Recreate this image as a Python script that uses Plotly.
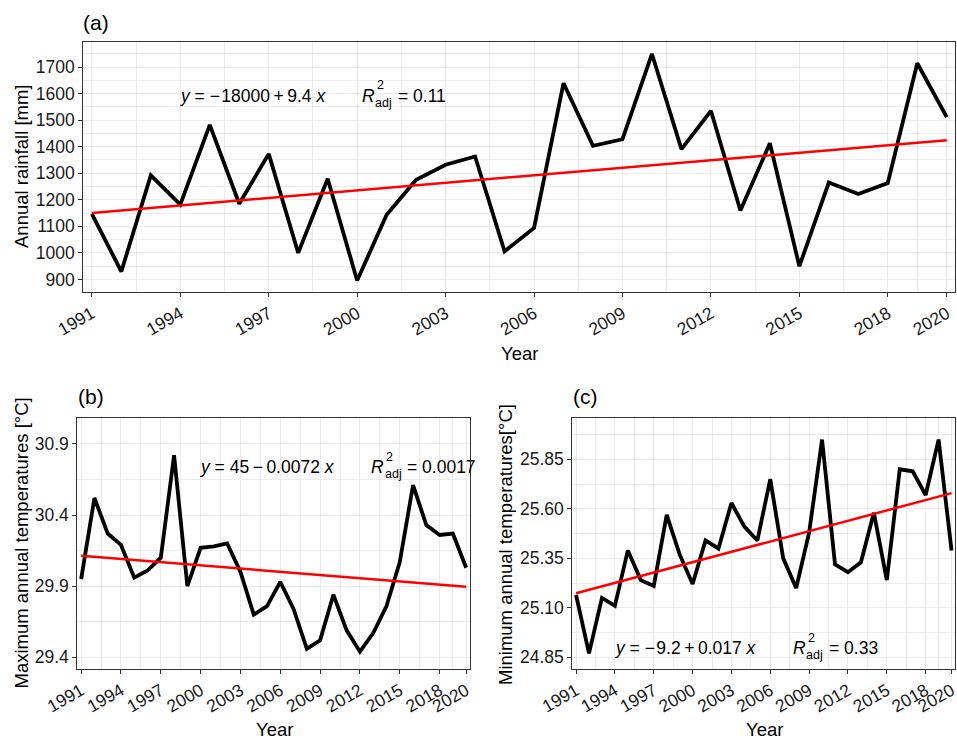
import numpy as np
import plotly.graph_objects as go

# ---------------- data ----------------
years = list(range(1991, 2021))
rainfall = [1147, 930, 1292, 1182, 1482, 1185, 1373, 1000, 1279, 896,
            1144, 1275, 1332, 1363, 1006, 1094, 1639, 1403, 1428, 1749,
            1391, 1535, 1160, 1413, 950, 1265, 1222, 1263, 1714, 1511]
tmax = [29.95, 30.52, 30.27, 30.19, 29.96, 30.01, 30.10, 30.82, 29.90, 30.17,
        30.18, 30.20, 30.00, 29.70, 29.76, 29.93, 29.74, 29.46, 29.52, 29.84,
        29.59, 29.44, 29.57, 29.76, 30.07, 30.61, 30.33, 30.26, 30.27, 30.03]
tmin = [25.165, 24.87, 25.15, 25.11, 25.39, 25.24, 25.21, 25.57, 25.37, 25.22,
        25.44, 25.40, 25.63, 25.51, 25.44, 25.75, 25.35, 25.20, 25.48, 25.95,
        25.32, 25.28, 25.33, 25.58, 25.24, 25.80, 25.79, 25.67, 25.95, 25.39]

x_ticks = [1991, 1994, 1997, 2000, 2003, 2006, 2009, 2012, 2015, 2018, 2020]
x_minor = [1992.5, 1995.5, 1998.5, 2001.5, 2004.5, 2007.5, 2010.5, 2013.5, 2016.5, 2019]
y_ticks_a = [900, 1000, 1100, 1200, 1300, 1400, 1500, 1600, 1700]
y_minor_a = [950, 1050, 1150, 1250, 1350, 1450, 1550, 1650, 1750]
y_ticks_b = [29.4, 29.9, 30.4, 30.9]
y_minor_b = [29.65, 30.15, 30.65]
y_ticks_c = [24.85, 25.10, 25.35, 25.60, 25.85]
y_minor_c = [24.975, 25.225, 25.475, 25.725, 25.975]

panel_tags = ["(a)", "(b)", "(c)"]
y_titles = ["Annual rainfall [mm]", "Maximum annual temperatures [°C]",
            "Minimum annual temperatures[°C]"]
x_title = "Year"
equations = ["<i>y</i> = \u2212\u200a18000\u2009+\u20099.4 <i>x</i>",
             "<i>y</i> = 45\u2009\u2212\u20090.0072 <i>x</i>",
             "<i>y</i> = \u2212\u200a9.2\u2009+\u20090.017 <i>x</i>"]
r2_values = ["= 0.11", "= 0.0017", "= 0.33"]

# ---------------- layout helpers ----------------
W, H = 957, 740
FONT = "Liberation Sans, Arial, sans-serif"


def px(x):
    return x / W


def py(y):
    return 1 - y / H


GRID = "#EBEBEB"
BORDER = "#333333"
TICKFONT = dict(size=17.5, color="#1a1a1a", family=FONT)


def xaxis_cfg(left, right, anchor):
    return dict(domain=[px(left), px(right)], anchor=anchor, automargin=False,
                range=[1990.71, 2020.29], tickmode="array", tickvals=x_ticks,
                ticktext=[str(v) for v in x_ticks], tickangle=-30,
                ticklabeloverflow="allow",
                ticks="outside", ticklen=4, tickcolor=BORDER, tickwidth=1,
                showgrid=True, gridcolor=GRID, gridwidth=1.4,
                minor=dict(tickvals=x_minor, showgrid=True, gridcolor=GRID,
                           gridwidth=0.9, ticks=""),
                showline=True, linecolor=BORDER, linewidth=1, mirror=True,
                zeroline=False, tickfont=TICKFONT, fixedrange=True)


def yaxis_cfg(top, bottom, anchor, rng, ticks, minor, fmt):
    return dict(domain=[py(bottom), py(top)], anchor=anchor, range=rng,
                automargin=False, ticklabeloverflow="allow",
                tickmode="array", tickvals=ticks,
                ticktext=[fmt.format(v) for v in ticks],
                ticks="outside", ticklen=4, tickcolor=BORDER, tickwidth=1,
                showgrid=True, gridcolor=GRID, gridwidth=1.4,
                minor=dict(tickvals=minor, showgrid=True, gridcolor=GRID,
                           gridwidth=0.9, ticks=""),
                showline=True, linecolor=BORDER, linewidth=1, mirror=True,
                zeroline=False, tickfont=TICKFONT, fixedrange=True)


fig = go.Figure()
series = [rainfall, tmax, tmin]
axes = [("x", "y"), ("x2", "y2"), ("x3", "y3")]
for vals, (xa, ya) in zip(series, axes):
    coef = np.polyfit(years, vals, 1)
    trend = np.polyval(coef, years)
    fig.add_trace(go.Scatter(x=years, y=vals, mode="lines",
                             line=dict(color="black", width=3.8),
                             xaxis=xa, yaxis=ya, showlegend=False,
                             hoverinfo="skip"))
    fig.add_trace(go.Scatter(x=years, y=trend, mode="lines",
                             line=dict(color="#FF0000", width=2.5),
                             xaxis=xa, yaxis=ya, showlegend=False,
                             hoverinfo="skip"))

# panel boxes (pixel positions)
A = dict(l=83.3, r=955.3, t=42.3, b=291.7)
B = dict(l=77.3, r=470.0, t=418.3, b=668.7)
C = dict(l=572.3, r=955.3, t=418.3, b=668.7)

fig.update_layout(
    width=W, height=H, margin=dict(l=0, r=0, t=0, b=0, autoexpand=False),
    paper_bgcolor="white", plot_bgcolor="white",
    font=dict(family=FONT, color="black"),
    xaxis=xaxis_cfg(A["l"], A["r"], "y"),
    yaxis=yaxis_cfg(A["t"], A["b"], "x", [854, 1793], y_ticks_a, y_minor_a, "{:.0f}"),
    xaxis2=xaxis_cfg(B["l"], B["r"], "y2"),
    yaxis2=yaxis_cfg(B["t"], B["b"], "x2", [29.32, 31.08], y_ticks_b, y_minor_b, "{:.1f}"),
    xaxis3=xaxis_cfg(C["l"], C["r"], "y3"),
    yaxis3=yaxis_cfg(C["t"], C["b"], "x3", [24.7925, 26.0575], y_ticks_c, y_minor_c, "{:.2f}"),
)

ann = []


def text(x, y, s, size, xanchor="left", angle=0, color="black"):
    ann.append(dict(x=px(x), y=py(y), xref="paper", yref="paper", text=s,
                    showarrow=False, xanchor=xanchor, yanchor="middle",
                    textangle=angle, borderpad=0,
                    font=dict(size=size, color=color, family=FONT)))


# panel tags
tag_pos = [(82, 22.5), (76.5, 396.5), (572, 396.5)]
for tag, (x, y) in zip(panel_tags, tag_pos):
    text(x, y, tag, 21)

# y titles
ytitle_pos = [(21, 167), (21, 543.5), (505, 545)]
for s, (x, y) in zip(y_titles, ytitle_pos):
    text(x, y, s, 18.5, xanchor="center", angle=-90)

# x titles
xtitle_pos = [(519, 353), (274, 729), (764, 729)]
for x, y in xtitle_pos:
    text(x, y, x_title, 18.5, xanchor="center")

# equations
eq_pos = [(179, 96), (199, 467), (614, 648)]
for s, (x, y) in zip(equations, eq_pos):
    text(x, y, s, 17.5)

# R^2 adj labels
r_pos = [(360.5, 96), (370, 467), (791.5, 648)]
for val, (x, y) in zip(r2_values, r_pos):
    text(x, y, "<i>R</i>", 17.5)
    text(x + 19.5, y - 10.5, "2", 12.5, xanchor="center")
    text(x + 23, y + 7, "adj", 12.5, xanchor="center")
    text(x + 36, y, val, 17.5)

fig.update_layout(annotations=ann)
fig.write_html("out.html")
